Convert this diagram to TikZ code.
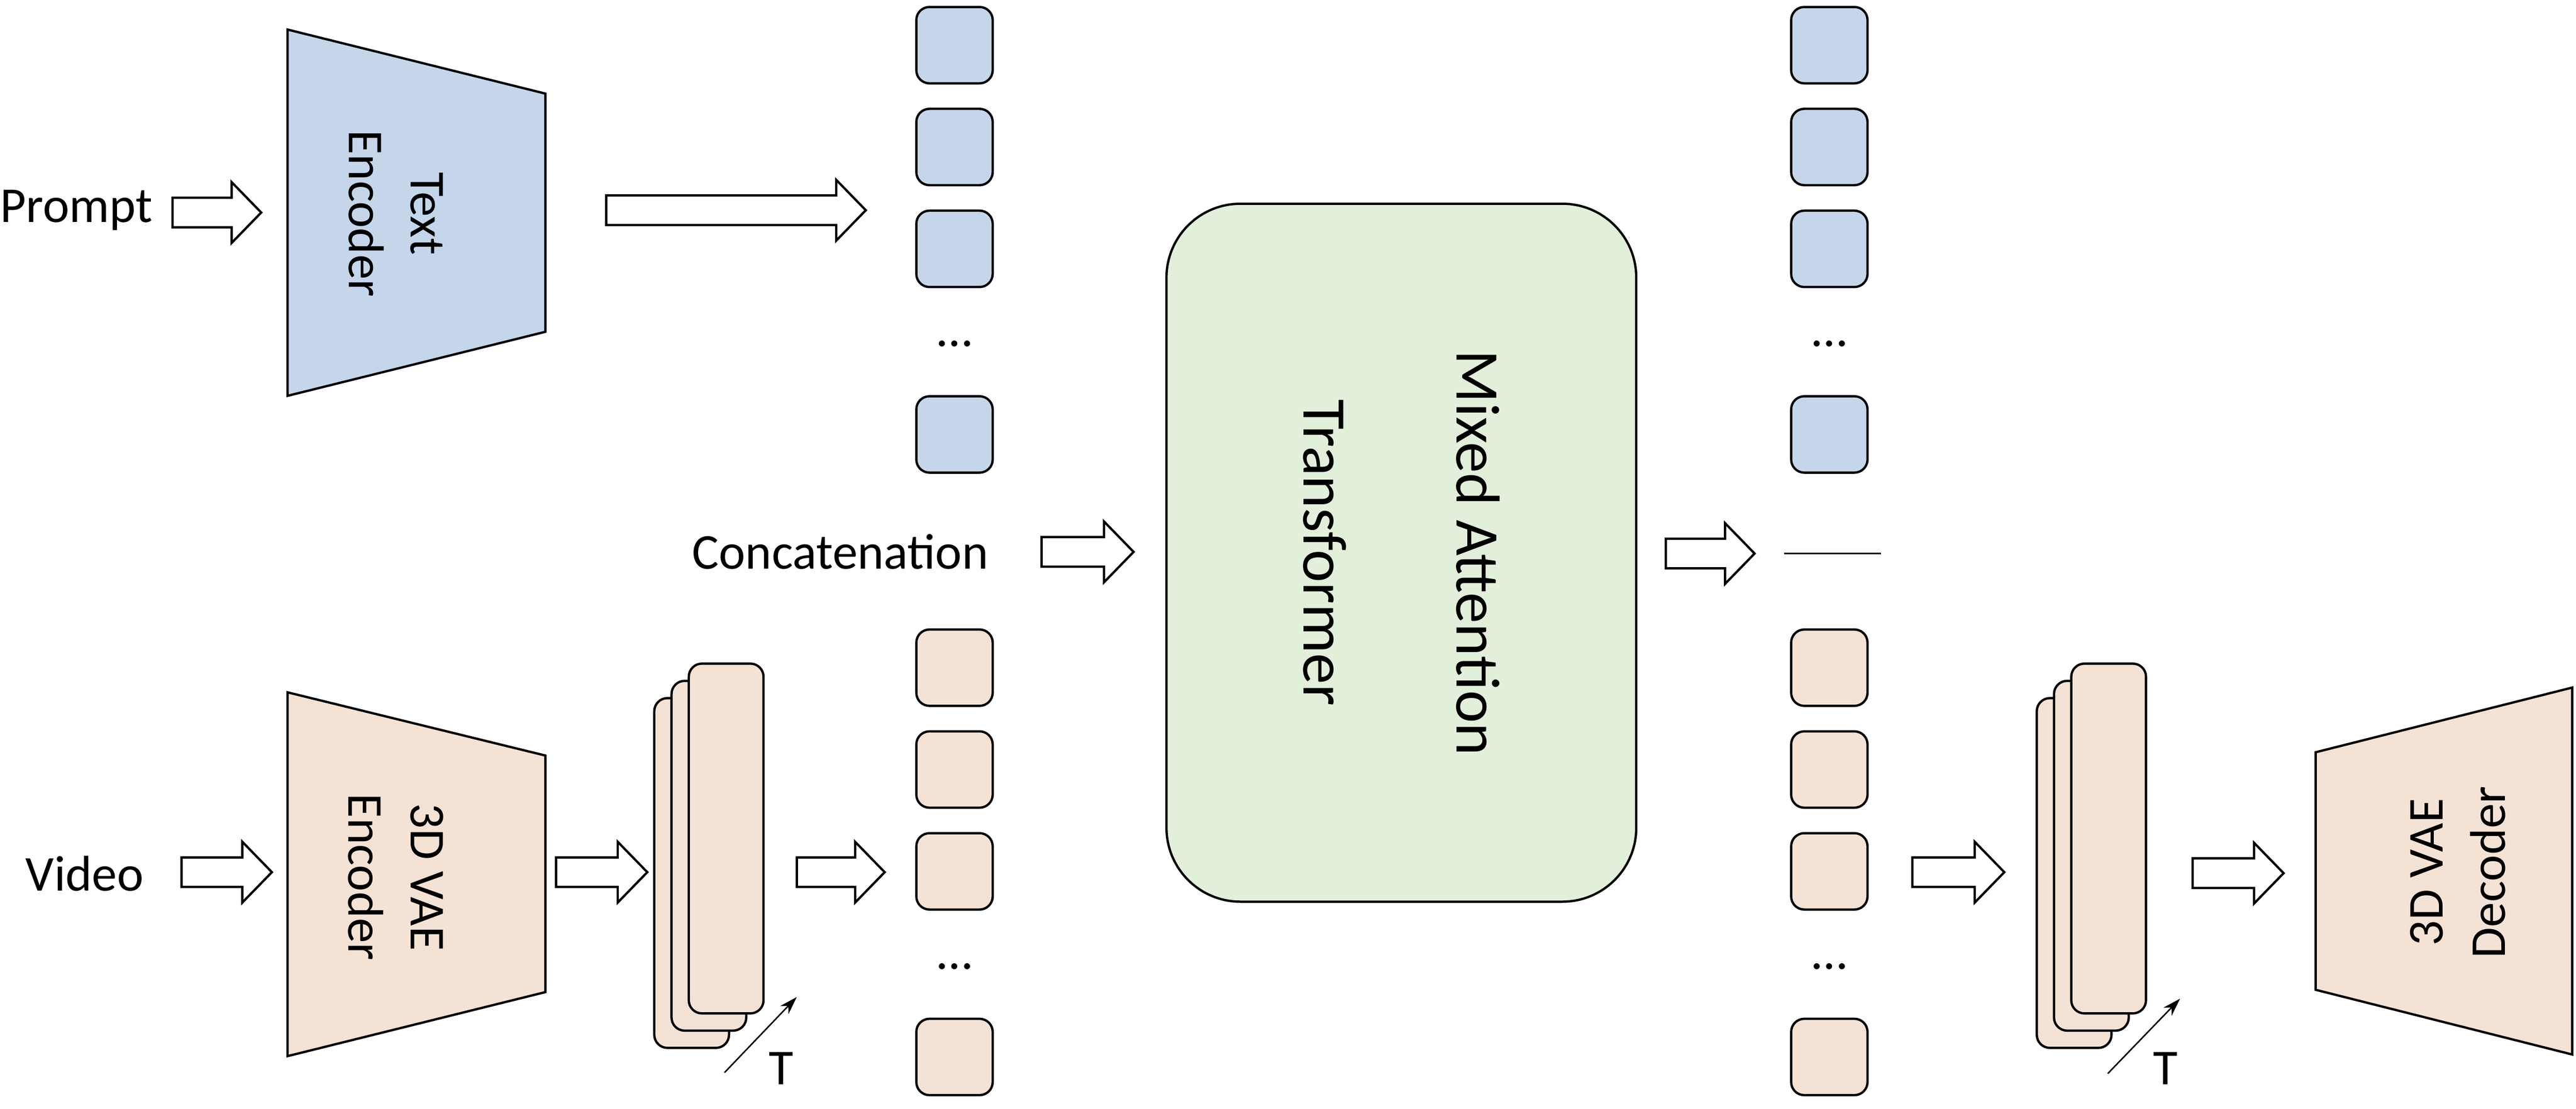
\documentclass[tikz,border=0pt]{standalone}
\usepackage{fontspec}
\setmainfont{Carlito}
\usetikzlibrary{arrows.meta, positioning}
\definecolor{tokenblue}{RGB}{197,214,235}
\definecolor{tokenorange}{RGB}{244,227,213}
\definecolor{mixgreen}{RGB}{226,239,218}
\tikzset{
  outline/.style={draw=black, line width=0.8pt},
  token/.style={outline, rounded corners=0.16cm, minimum width=0.93cm, minimum height=0.93cm, inner sep=0pt},
  frame/.style={outline, rounded corners=0.16cm, fill=tokenorange, minimum width=0.91cm, minimum height=4.26cm, inner sep=0pt},
  label/.style={font=\fontsize{17.4}{21.5}\selectfont, inner sep=0pt},
  blockarr/.style={outline, fill=white, line join=miter},
  tarrow/.style={-{Stealth[length=2.2mm,width=1.4mm]}, line width=0.5pt},
}
% block arrow: start point, length
\newcommand{\blockarrow}[2]{%
  \draw[blockarr] (#1) ++(0,-9) -- ++({#2-18},0) -- ++(0,-9.5) -- ++(18,18.5)
    -- ++(-18,18.5) -- ++(0,-9.5) -- ++({18-#2},0) -- cycle;}
\begin{document}
\begin{tikzpicture}[x=0.02cm, y=-0.02cm]
\useasboundingbox (0,0) rectangle (1568,675);

% text branch
\node[label] (prompt) at (46.5,128) {Prompt};
\blockarrow{105,129.4}{54}
\draw[outline, fill=tokenblue] (175,18) -- (332,57) -- (332,202) -- (175,241) -- cycle;
\node[label, rotate=-90, align=center] (textenc) at (241,130) {Text\\Encoder};
\blockarrow{369,128}{158}

% video branch
\node[label] (video) at (51.5,532) {Video};
\blockarrow{110.5,531}{55}
\draw[outline, fill=tokenorange] (175,421.5) -- (332,460) -- (332,604) -- (175,643) -- cycle;
\node[label, rotate=-90, align=center] (vaeenc) at (241,534) {3D VAE\\Encoder};
\blockarrow{338.5,531}{55.5}
\foreach \k in {0,1,2}
  \node[frame] (lstack\k) at ({421+10.5*\k},{531.5-10.5*\k}) {};
\coordinate (ltail) at (441,653);
\coordinate (lhead) at (485,607);
\draw[tarrow] (ltail) -- (lhead);
\node[label] (lT) at (475.5,650.5) {T};
\blockarrow{485,531}{53.5}

% token columns
\foreach \i/\y in {1/27.5, 2/89.5, 3/151.5, 4/264.5} {
  \node[token, fill=tokenblue] (tin\i) at (581,\y) {};
  \node[token, fill=tokenblue] (tout\i) at (1113.5,\y) {};
}
\foreach \i/\y in {1/406.5, 2/468.5, 3/530.5, 4/643.5} {
  \node[token, fill=tokenorange] (vin\i) at (581,\y) {};
  \node[token, fill=tokenorange] (vout\i) at (1113.5,\y) {};
}
\node[label, anchor=base] (tindots) at (581,211) {…};
\node[label, anchor=base] (toutdots) at (1113.5,211) {…};
\node[label, anchor=base] (vindots) at (581,590) {…};
\node[label, anchor=base] (voutdots) at (1113.5,590) {…};

% transformer
\node[label] (concat) at (511.5,336) {Concatenation};
\blockarrow{634,336}{56}
\node[outline, fill=mixgreen, rounded corners=0.9cm, minimum width=8.5cm, minimum height=5.72cm,
  rotate=-90, align=center, font=\fontsize{21.5}{26}\selectfont] (mat) at (853,336.5)
  {Mixed Attention\\[27pt]Transformer};
\blockarrow{1014,337}{54}
\coordinate (sepL) at (1086,337);
\coordinate (sepR) at (1145,337);
\draw[line width=0.5pt] (sepL) -- (sepR);

% decoder branch
\blockarrow{1164,531}{56}
\foreach \k in {0,1,2}
  \node[frame] (rstack\k) at ({1262.5+10.5*\k},{531.5-10.5*\k}) {};
\coordinate (rtail) at (1283,653.6);
\coordinate (rhead) at (1327,608);
\draw[tarrow] (rtail) -- (rhead);
\node[label] (rT) at (1318,650.5) {T};
\blockarrow{1334.6,531.6}{55.4}
\draw[outline, fill=tokenorange] (1409.5,458) -- (1565.7,418.6) -- (1565.7,642) -- (1409.5,602.6) -- cycle;
\node[label, rotate=90, align=center] (vaedec) at (1496,531) {3D VAE\\Decoder};
\end{tikzpicture}
\end{document}
